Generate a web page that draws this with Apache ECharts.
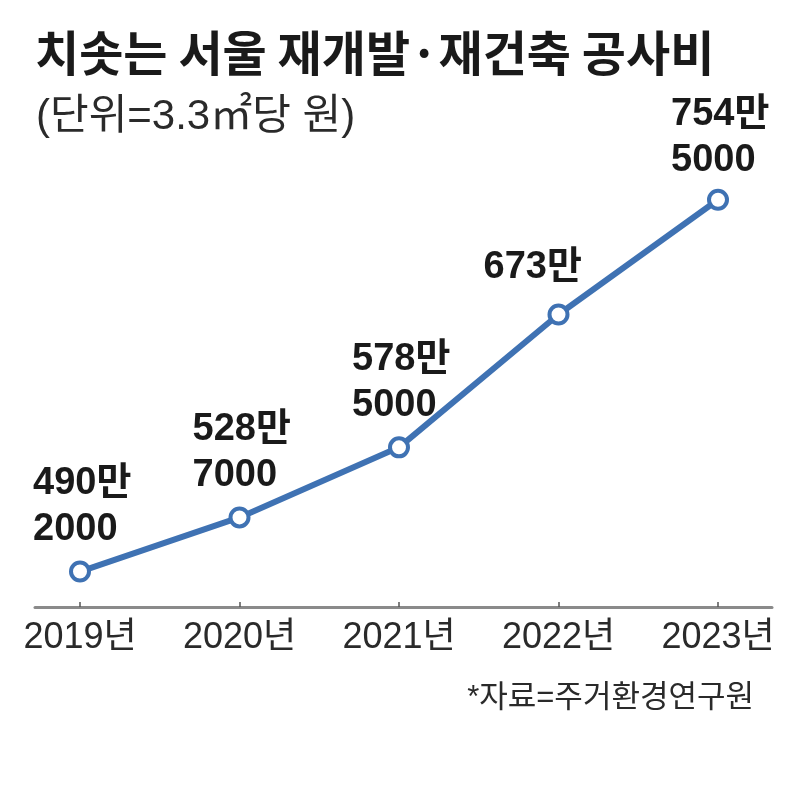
<!DOCTYPE html>
<html><head><meta charset="utf-8">
<script src="https://cdn.jsdelivr.net/npm/echarts@6/dist/echarts.min.js"></script>
<style>html,body{margin:0;padding:0;background:#fff}#c{width:795px;height:800px}</style>
</head><body><div id="c"></div>
<script>
const titleText = '치솟는 서울 재개발·재건축 공사비';
const subtitleText = '(단위=3.3㎡당 원)';
const sourceText = '*자료=주거환경연구원';
const years = ['2019년', '2020년', '2021년', '2022년', '2023년'];
const costs = [4902000, 5287000, 5785000, 6730000, 7545000];

const FONT = "'Liberation Sans', 'Noto Sans CJK KR', sans-serif";
const BLUE = '#3f72b3';
const yMin = 4650000, yMax = 8020000;
const gridTop = 133, gridBottom = 193;

function fmt(v) {
  const man = Math.floor(v / 10000);
  const rest = v % 10000;
  return man + '만' + (rest ? '\n' + rest : '');
}

const seriesData = costs.map((v, i) => {
  const item = { value: v };
  if (i === 3) item.label = { offset: [-75, -5] };
  if (i === 4) item.label = { offset: [-47, 3] };
  return item;
});

const chart = echarts.init(document.getElementById('c'));
chart.setOption({
  backgroundColor: '#fff',
  animation: false,
  title: [
    { text: titleText, left: 30, top: 24, textStyle: { fontFamily: "'Noto Sans CJK KR'", fontWeight: 'bold', fontSize: 48, color: '#1a1a1a' } },
    { text: subtitleText, left: 31, top: 91, textStyle: { fontFamily: FONT, fontWeight: 'normal', fontSize: 42, color: '#2a2a2a' } },
    { text: sourceText, right: 36, top: 678, textStyle: { fontFamily: FONT, fontWeight: 'normal', fontSize: 31, color: '#2a2a2a' } }
  ],
  grid: [
    { left: 35, right: 23, top: gridTop, bottom: gridBottom },
    { left: 80, right: 77, top: gridTop, bottom: gridBottom }
  ],
  xAxis: [
    { type: 'value', gridIndex: 0, min: 0, max: 1, axisLine: { show: true, lineStyle: { color: '#8a8a8a', width: 3 } }, axisTick: { show: false }, axisLabel: { show: false }, splitLine: { show: false } },
    { type: 'category', gridIndex: 1, data: years, boundaryGap: false,
      axisLine: { show: true, lineStyle: { color: 'rgba(0,0,0,0)' } },
      axisTick: { show: true, inside: true, length: 5, lineStyle: { color: '#555', width: 1.5 } },
      axisLabel: { margin: 13, fontFamily: FONT, fontSize: 36, color: '#2a2a2a' },
      splitLine: { show: false } }
  ],
  yAxis: [
    { type: 'value', gridIndex: 0, min: yMin, max: yMax, show: false, splitLine: { show: false } },
    { type: 'value', gridIndex: 1, min: yMin, max: yMax, show: false, splitLine: { show: false } }
  ],
  series: [{
    type: 'line', xAxisIndex: 1, yAxisIndex: 1,
    data: seriesData,
    lineStyle: { color: BLUE, width: 6 },
    symbol: 'circle', symbolSize: 18,
    itemStyle: { color: '#fff', borderColor: BLUE, borderWidth: 4 },
    label: {
      show: true, position: 'top', distance: 8, align: 'left', offset: [-47, 0],
      formatter: p => fmt(p.value),
      fontFamily: FONT, fontWeight: 'bold', fontSize: 38, lineHeight: 46, color: '#1a1a1a'
    },
    z: 5
  }]
});
</script></body></html>
